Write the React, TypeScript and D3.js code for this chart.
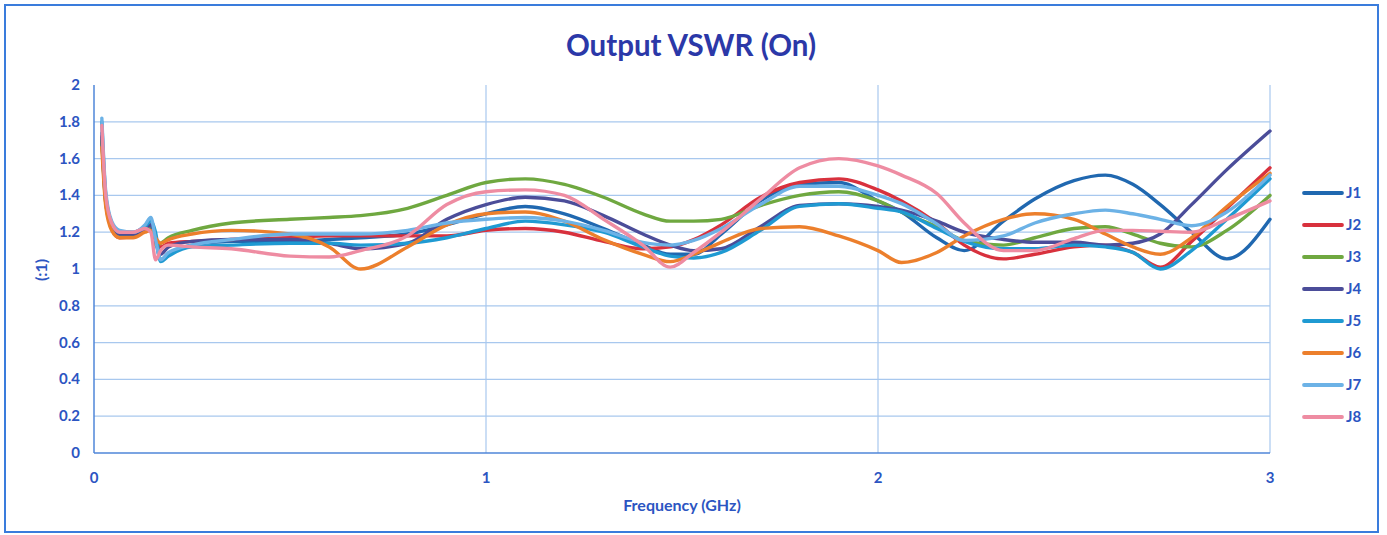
import React from 'react';
import * as d3 from 'd3';

// frequency points (GHz) shared by all ports
const freq = [0.02, 0.03, 0.045, 0.065, 0.1, 0.13, 0.145, 0.157, 0.17, 0.19,
  0.25, 0.35, 0.5, 0.6, 0.68, 0.8, 0.9, 1.0,
  1.1, 1.2, 1.3, 1.4, 1.47, 1.53, 1.6, 1.7, 1.8, 1.9,
  2.0, 2.06, 2.15, 2.22, 2.32, 2.4, 2.5, 2.58, 2.65, 2.72, 2.8, 2.89, 3.0];

const j1 = [1.74, 1.38, 1.24, 1.19, 1.19, 1.22, 1.24, 1.16, 1.05, 1.08,
  1.13, 1.15, 1.15, 1.16, 1.17, 1.19, 1.24, 1.30,
  1.34, 1.30, 1.22, 1.13, 1.08, 1.08, 1.19, 1.37, 1.46, 1.47,
  1.37, 1.31, 1.17, 1.10, 1.26, 1.38, 1.48, 1.51, 1.46, 1.35, 1.20, 1.055, 1.27];
const j2 = [1.72, 1.36, 1.22, 1.17, 1.18, 1.21, 1.22, 1.14, 1.12, 1.14,
  1.15, 1.16, 1.17, 1.18, 1.18, 1.18, 1.18, 1.21,
  1.22, 1.20, 1.15, 1.11, 1.12, 1.16, 1.24, 1.39, 1.47, 1.49,
  1.43, 1.37, 1.25, 1.13, 1.055, 1.08, 1.12, 1.13, 1.09, 1.01, 1.15, 1.33, 1.55];
const j3 = [1.70, 1.36, 1.23, 1.19, 1.19, 1.21, 1.22, 1.13, 1.14, 1.17,
  1.21, 1.25, 1.27, 1.28, 1.29, 1.33, 1.40, 1.47,
  1.49, 1.46, 1.39, 1.30, 1.26, 1.26, 1.27, 1.345, 1.40, 1.42,
  1.37, 1.31, 1.23, 1.155, 1.13, 1.17, 1.22, 1.23, 1.19, 1.14, 1.12, 1.21, 1.40];
const j4 = [1.72, 1.37, 1.23, 1.19, 1.19, 1.22, 1.24, 1.15, 1.08, 1.12,
  1.15, 1.16, 1.16, 1.14, 1.11, 1.14, 1.27, 1.35,
  1.39, 1.37, 1.29, 1.19, 1.13, 1.10, 1.11, 1.23, 1.345, 1.355,
  1.34, 1.32, 1.26, 1.20, 1.16, 1.145, 1.145, 1.13, 1.14, 1.19, 1.35, 1.54, 1.75];
const j5 = [1.80, 1.40, 1.25, 1.20, 1.20, 1.23, 1.26, 1.20, 1.04, 1.07,
  1.12, 1.13, 1.14, 1.14, 1.13, 1.14, 1.17, 1.22,
  1.26, 1.24, 1.20, 1.12, 1.07, 1.06, 1.09, 1.21, 1.34, 1.355,
  1.33, 1.31, 1.22, 1.15, 1.11, 1.11, 1.13, 1.12, 1.09, 1.0, 1.10, 1.27, 1.49];
const j6 = [1.66, 1.34, 1.21, 1.17, 1.17, 1.20, 1.21, 1.17, 1.14, 1.16,
  1.19, 1.21, 1.19, 1.12, 1.00, 1.12, 1.24, 1.30,
  1.31, 1.26, 1.16, 1.08, 1.04, 1.08, 1.145, 1.22, 1.23, 1.18,
  1.10, 1.035, 1.09, 1.18, 1.27, 1.30, 1.27, 1.19, 1.12, 1.08, 1.17, 1.34, 1.52];
const j7 = [1.82, 1.42, 1.26, 1.21, 1.20, 1.24, 1.28, 1.16, 1.05, 1.09,
  1.13, 1.16, 1.19, 1.19, 1.19, 1.21, 1.25, 1.27,
  1.28, 1.26, 1.21, 1.145, 1.13, 1.155, 1.22, 1.35, 1.45, 1.45,
  1.40, 1.355, 1.245, 1.155, 1.18, 1.25, 1.30, 1.32, 1.30, 1.27, 1.235, 1.31, 1.51];
const j8 = [1.78, 1.40, 1.25, 1.20, 1.20, 1.22, 1.20, 1.05, 1.10, 1.13,
  1.12, 1.11, 1.07, 1.065, 1.10, 1.18, 1.35, 1.42,
  1.43, 1.40, 1.27, 1.13, 1.01, 1.09, 1.20, 1.38, 1.55, 1.60,
  1.56, 1.51, 1.41, 1.25, 1.10, 1.10, 1.165, 1.21, 1.21, 1.205, 1.20, 1.27, 1.37];

const seriesNames = ['J1', 'J2', 'J3', 'J4', 'J5', 'J6', 'J7', 'J8'];
const seriesValues = [j1, j2, j3, j4, j5, j6, j7, j8];
const seriesColors = ['#2068b0', '#d8313d', '#6fa840', '#4b4d99', '#1f9ad2', '#ec7f2c', '#6cb2e6', '#ee8ca2'];

const xTicks = [0, 1, 2, 3];
const yTicks = [0, 0.2, 0.4, 0.6, 0.8, 1, 1.2, 1.4, 1.6, 1.8, 2];

const W = 1387, H = 535;
const margin = {left: 94, right: 117, top: 85, bottom: 82};
const font = 'Lato, "Open Sans", sans-serif';
const labelBlue = '#2c55c2';

export default function App() {
  const x = d3.scaleLinear().domain([0, 3]).range([margin.left, W - margin.right]);
  const y = d3.scaleLinear().domain([0, 2]).range([H - margin.bottom, margin.top]);

  const line = d3.line<number>()
    .x((d, i) => x(freq[i]))
    .y(d => y(d))
    .curve(d3.curveMonotoneX);

  return <svg width={W} height={H} style={{position: 'absolute', left: 0, top: 0, background: '#fff'}}>
    <rect x={5} y={5} width={1373} height={527} fill="none" stroke="#3a7cdc" strokeWidth={2} />
    <text x={691} y={56} textAnchor="middle" fontFamily={font} fontWeight="bold" fontSize={29.5} fill="#2b38a8">
      Output VSWR (On)
    </text>

    {yTicks.slice(1).map(t =>
      <line key={'gy' + t} x1={x(0)} x2={x(3)} y1={y(t)} y2={y(t)}
        stroke={t === 2 ? 'none' : '#a8c8ee'} strokeWidth={1.2} />)}
    {xTicks.slice(1).map(t =>
      <line key={'gx' + t} x1={x(t)} x2={x(t)} y1={y(0)} y2={y(2)} stroke="#a8c8ee" strokeWidth={1.2} />)}

    <line x1={x(0)} x2={x(0)} y1={y(0)} y2={y(2)} stroke="#4f86d8" strokeWidth={1.5} />
    <line x1={x(0)} x2={x(3)} y1={y(0)} y2={y(0)} stroke="#4f86d8" strokeWidth={1.5} />

    {yTicks.map(t =>
      <text key={'ty' + t} x={80} y={y(t) + 5} textAnchor="end" fontFamily={font} fontWeight="bold"
        fontSize={15} fill={labelBlue}>{t}</text>)}
    {xTicks.map(t =>
      <text key={'tx' + t} x={x(t)} y={483} textAnchor="middle" fontFamily={font} fontWeight="bold"
        fontSize={15} fill={labelBlue}>{t}</text>)}

    <text x={682} y={511} textAnchor="middle" fontFamily={font} fontWeight="bold" fontSize={16} fill={labelBlue}>
      Frequency (GHz)
    </text>
    <text transform="translate(47,270) rotate(-90)" textAnchor="middle" fontFamily={font} fontWeight="bold"
      fontSize={16} fill={labelBlue}>(:1)</text>

    {seriesValues.map((vals, k) =>
      <path key={seriesNames[k]} d={line(vals) || ''} fill="none" stroke={seriesColors[k]}
        strokeWidth={3.4} strokeLinejoin="round" strokeLinecap="round" />)}

    {seriesNames.map((name, k) => {
      const ly = 193 + k * 32;
      return <g key={'lg' + name}>
        <line x1={1304} x2={1342} y1={ly} y2={ly} stroke={seriesColors[k]} strokeWidth={3.8} strokeLinecap="round" />
        <text x={1346} y={ly + 5} fontFamily={font} fontWeight="bold" fontSize={15} fill={labelBlue}>{name}</text>
      </g>;
    })}
  </svg>;
}
